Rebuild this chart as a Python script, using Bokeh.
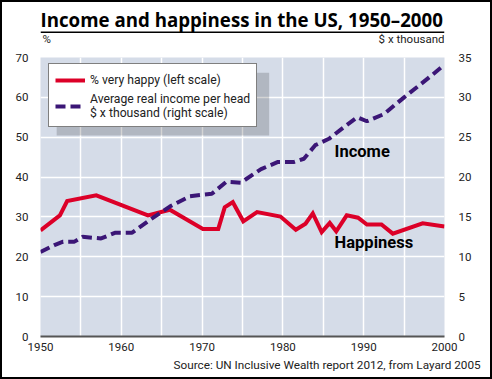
from bokeh.plotting import figure
from bokeh.layouts import column
from bokeh.models import (Range1d, LinearAxis, Label, Legend, LegendItem,
                          BoxAnnotation, FixedTicker, Title)
from bokeh.embed import file_html
from bokeh.resources import INLINE

# ---- data ----
hap_years = [1950, 1952.4, 1953.3, 1956.9, 1963.3, 1966, 1970.1, 1972, 1972.8, 1973.8,
             1975.1, 1976.8, 1979.7, 1981.6, 1982.8, 1983.7, 1984.8, 1985.8, 1986.6,
             1987.9, 1989.3, 1990.4, 1992.2, 1993.6, 1997.3, 2000]
hap_values = [26.6, 30.4, 34.0, 35.4, 30.4, 31.8, 27.0, 27.0, 32.4, 33.7,
              28.9, 31.2, 30.1, 26.8, 28.3, 30.9, 26.2, 28.5, 26.4,
              30.4, 29.8, 28.1, 28.1, 25.8, 28.4, 27.6]

inc_years = [1950, 1951.8, 1952.8, 1954.2, 1955.2, 1957.5, 1959.2, 1961.3, 1963.5, 1966,
             1968.5, 1971.2, 1973, 1974.8, 1977.3, 1979.4, 1981.4, 1982.6, 1984,
             1985.7, 1987.6, 1989.2, 1990.4, 1992.5, 1995, 1998.1, 2000]
inc_values = [10.6, 11.5, 11.9, 11.9, 12.5, 12.3, 13.0, 13.0, 14.6, 16.3,
              17.6, 17.9, 19.4, 19.3, 21.0, 21.9, 21.9, 22.3, 24.0,
              24.8, 26.3, 27.5, 27.0, 27.9, 30.0, 32.5, 34.1]

x_ticks = [1950, 1960, 1970, 1980, 1990, 2000]
left_ticks = [0, 10, 20, 30, 40, 50, 60, 70]
right_ticks = [0, 5, 10, 15, 20, 25, 30, 35]

title_text = "Income and happiness in the US, 1950\u20132000"
left_unit = "%"
right_unit = "$ x thousand"
source_text = "Source: UN Inclusive Wealth report 2012, from Layard 2005"
legend_labels = ["% very happy (left scale)",
                 "Average real income per head\n$ x thousand (right scale)"]

RED = "#dc0028"
PURPLE = "#3b1676"
BG = "#d5dce8"
FONT = "Roboto"
TXT = "#222222"
W = 488

# ---- header (its frame is aligned with the chart frame: x 40..444 px) ----
head = figure(width=W, height=47, x_range=Range1d(40, 444), y_range=Range1d(49, 2),
              output_backend="svg", toolbar_location=None,
              min_border=0, min_border_left=0, min_border_right=0,
              min_border_top=0, min_border_bottom=0)
head.axis.visible = False
head.grid.visible = False
head.outline_line_color = None
head.background_fill_color = "white"
head.border_fill_color = "white"
head.add_layout(Label(x=40, y=19.3, text=title_text, text_font="Open Sans", text_font_style="bold",
                      text_font_size="18.7px", text_color="black", text_baseline="middle"))
head.add_layout(BoxAnnotation(left=40, right=444, top=31, bottom=32.6,
                              fill_color="black", fill_alpha=1, line_color=None))
head.add_layout(Label(x=42, y=38.5, text=left_unit, text_font=FONT, text_font_size="11.5px",
                      text_color=TXT, text_baseline="middle"))
head.add_layout(Label(x=444, y=38.5, text=right_unit, text_font=FONT, text_font_size="11.5px",
                      text_color=TXT, text_align="right", text_baseline="middle"))

# ---- main chart ----
p = figure(width=W, height=328, x_range=Range1d(1950, 2000), y_range=Range1d(0, 70),
           output_backend="svg", toolbar_location=None,
           min_border_left=38, min_border_right=46, min_border_top=8, min_border_bottom=41)
p.extra_y_ranges = {"inc": Range1d(0, 35)}
p.background_fill_color = BG
p.border_fill_color = "white"
p.outline_line_color = None

p.xgrid.ticker = FixedTicker(ticks=list(range(1950, 2001, 5)))
p.ygrid.ticker = FixedTicker(ticks=left_ticks)
for g in (p.xgrid, p.ygrid):
    g.grid_line_color = "white"
    g.grid_line_width = 1.5

p.xaxis.ticker = FixedTicker(ticks=x_ticks)
p.yaxis.ticker = FixedTicker(ticks=left_ticks)
right_axis = LinearAxis(y_range_name="inc", ticker=FixedTicker(ticks=right_ticks))
p.add_layout(right_axis, "right")

for ax in (p.xaxis[0], p.yaxis[0], right_axis):
    ax.major_tick_line_color = None
    ax.minor_tick_line_color = None
    ax.major_tick_in = 0
    ax.major_tick_out = 0
    ax.major_label_text_font = FONT
    ax.major_label_text_font_size = "11.5px"
    ax.major_label_text_color = TXT
p.yaxis[0].axis_line_color = None
right_axis.axis_line_color = None
p.xaxis[0].axis_line_color = "#555555"
p.xaxis[0].axis_line_width = 2
p.xaxis[0].major_label_standoff = 6
p.yaxis[0].major_label_standoff = 12
right_axis.major_label_standoff = 14

shadow = BoxAnnotation(left=1952.0, right=1978.3, top=66.2, bottom=50.4,
                       fill_color="black", fill_alpha=0.17, line_color=None)
p.add_layout(shadow)

r_hap = p.line(hap_years, hap_values, line_color=RED, line_width=4, line_join="miter")
r_inc = p.line(inc_years, inc_values, y_range_name="inc", line_color=PURPLE,
               line_width=4, line_dash="10 5")

legend = Legend(items=[
    LegendItem(label=legend_labels[0], renderers=[r_hap]),
    LegendItem(label=legend_labels[1], renderers=[r_inc]),
], location=(8, 209))
legend.background_fill_color = "white"
legend.background_fill_alpha = 1
legend.border_line_color = "black"
legend.border_line_width = 1.5
legend.label_text_font = FONT
legend.label_text_font_size = "12.2px"
legend.label_text_color = TXT
legend.glyph_width = 30
legend.label_standoff = 5
legend.padding = 6
legend.spacing = 2
legend.margin = 0
p.add_layout(legend)

p.add_layout(Label(x=1986.4, y=46.4, text="Income", text_font=FONT, text_font_style="bold",
                   text_font_size="16.5px", text_color="black", text_baseline="middle"))
p.add_layout(Label(x=1986.4, y=23.6, text="Happiness", text_font=FONT, text_font_style="bold",
                   text_font_size="16.5px", text_color="black", text_baseline="middle"))

src = Title(text=source_text, align="left", offset=133, text_font=FONT,
            text_font_size="11.75px", text_font_style="normal", text_color=TXT, standoff=4)
p.add_layout(src, "below")

layout = column(head, p, spacing=0, styles={"border": "2px solid black"})

open("out.html", "w").write(file_html(layout, INLINE))
